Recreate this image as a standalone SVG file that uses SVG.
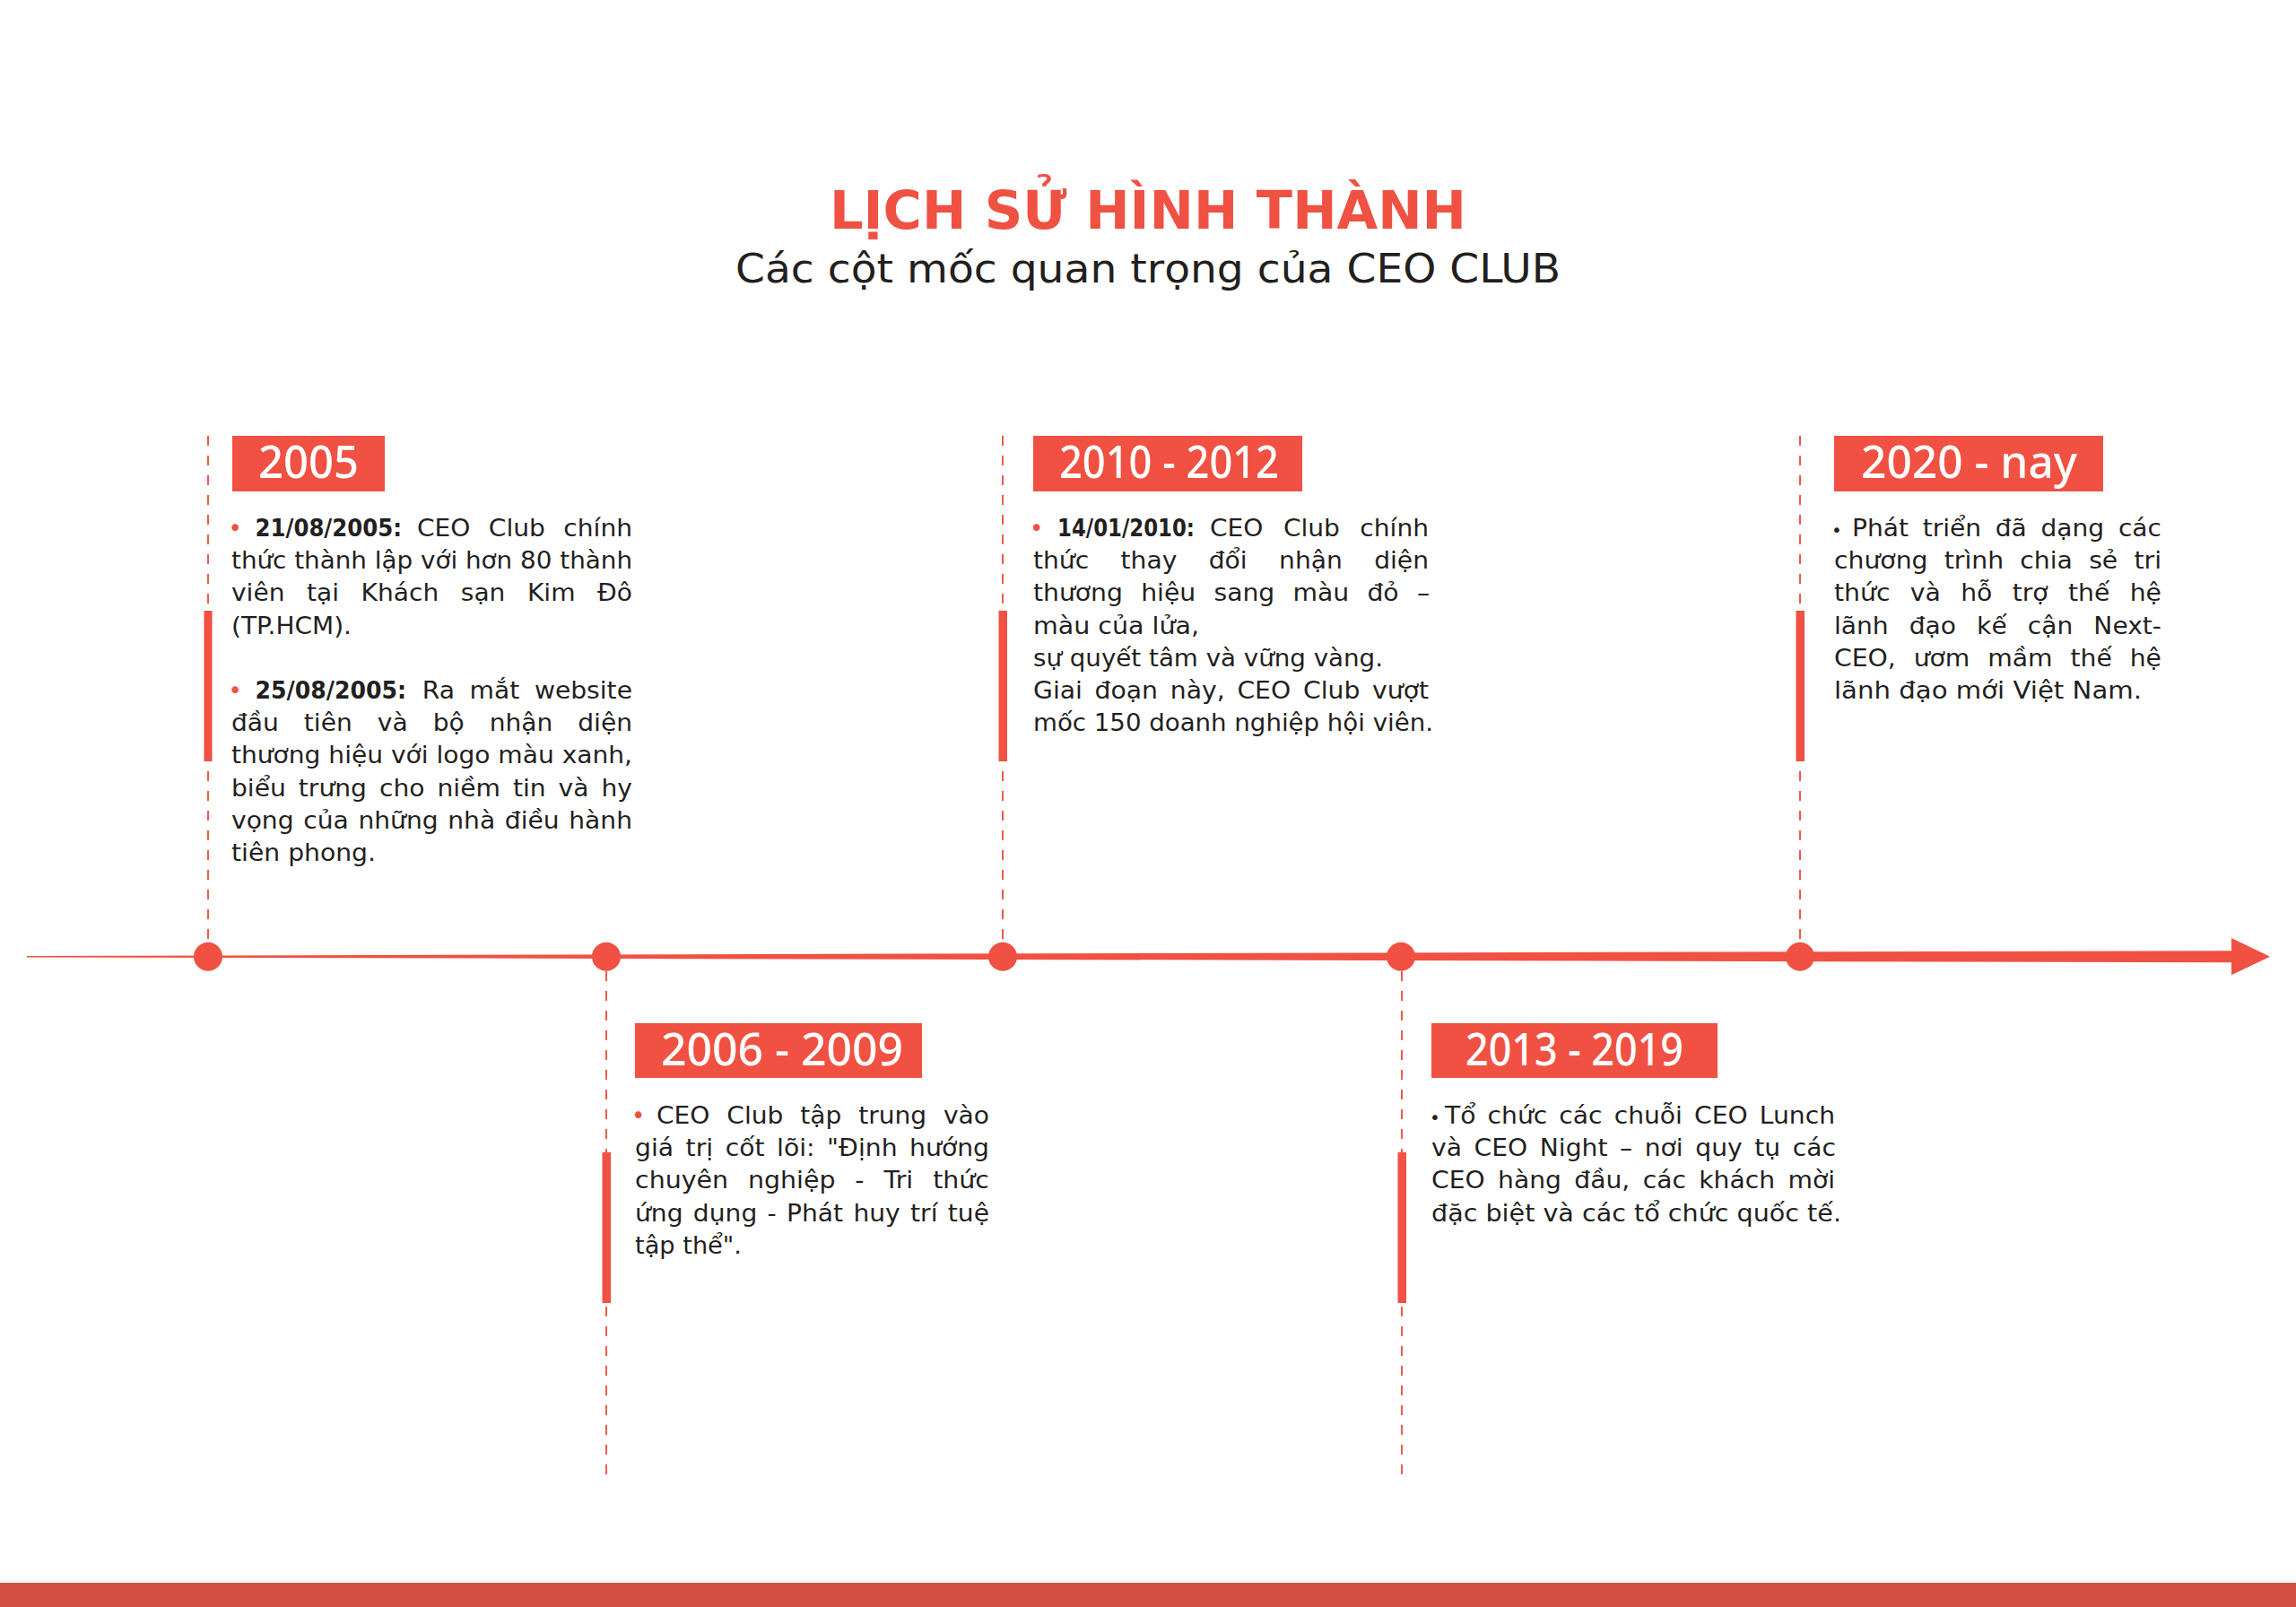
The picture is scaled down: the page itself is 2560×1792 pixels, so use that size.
<svg xmlns="http://www.w3.org/2000/svg" width="2560" height="1792" viewBox="0 0 2560 1792">
<style>
text{font-family:"DejaVu Sans","Noto Sans",sans-serif}
.title{font-size:59px;font-weight:bold;fill:#EF5142}
.sub{font-size:44px;fill:#231F20}
.yr{font-family:"Noto Sans","DejaVu Sans",sans-serif;font-size:51px;font-weight:500;fill:#FFFFFF}
.body{font-size:26px;fill:#231F20}
.date{font-size:26px;font-weight:bold;fill:#231F20}
.bul{font-size:26px;fill:#EF5142}
.bk{font-size:20px;fill:#231F20}
.red{fill:#F05142}
.dash{stroke:#EF5A4C;stroke-width:2;stroke-dasharray:11 11;fill:none}
</style>
<rect width="2560" height="1792" fill="#FFFFFF"/>

<g id="heading">
<text class="title" x="925" y="255" textLength="710" lengthAdjust="spacingAndGlyphs">LỊCH SỬ HÌNH THÀNH</text>
<text class="sub" x="820" y="315" textLength="920" lengthAdjust="spacingAndGlyphs">Các cột mốc quan trọng của CEO CLUB</text>
</g>

<g id="connectors">
<polygon class="red" points="30,1065.9 2490,1060.2 2490,1073.2 30,1067.5"/>
<polygon class="red" points="2488,1046 2531,1066.7 2488,1087.3"/>
<line class="dash" x1="232" y1="486" x2="232" y2="1051"/>
<line class="dash" x1="1118" y1="486" x2="1118" y2="1051"/>
<line class="dash" x1="2007" y1="486" x2="2007" y2="1051"/>
<line class="dash" x1="676" y1="1083" x2="676" y2="1647"/>
<line class="dash" x1="1563" y1="1083" x2="1563" y2="1647"/>
</g>

<g id="m2005">
<circle class="red" cx="232" cy="1066.7" r="16"/>
<rect class="red" x="227.5" y="681" width="9" height="168"/>
<rect class="red" x="259" y="486" width="170" height="62"/>
<text class="yr" x="288" y="533" textLength="112" lengthAdjust="spacingAndGlyphs">2005</text>
<text class="bul" x="254.5" y="598">•</text>
<text class="date" x="284.5" y="598" textLength="163.5" lengthAdjust="spacingAndGlyphs">21/08/2005:</text>
<text class="body" x="465" y="598" textLength="240" lengthAdjust="spacingAndGlyphs" style="word-spacing:10.6px">CEO Club chính</text>
<text class="body" x="258" y="634.2" textLength="447" lengthAdjust="spacingAndGlyphs">thức thành lập với hơn 80 thành</text>
<text class="body" x="258" y="670.4" textLength="447" lengthAdjust="spacingAndGlyphs" style="word-spacing:14.5px">viên tại Khách sạn Kim Đô</text>
<text class="body" x="258" y="706.6" textLength="134" lengthAdjust="spacingAndGlyphs">(TP.HCM).</text>
<text class="bul" x="254.5" y="779">•</text>
<text class="date" x="284.5" y="779" textLength="168.5" lengthAdjust="spacingAndGlyphs">25/08/2005:</text>
<text class="body" x="470.7" y="779" textLength="234.3" lengthAdjust="spacingAndGlyphs" style="word-spacing:7.1px">Ra mắt website</text>
<text class="body" x="258" y="815.2" textLength="447" lengthAdjust="spacingAndGlyphs" style="word-spacing:17.7px">đầu tiên và bộ nhận diện</text>
<text class="body" x="258" y="851.4" textLength="447" lengthAdjust="spacingAndGlyphs">thương hiệu với logo màu xanh,</text>
<text class="body" x="258" y="887.6" textLength="447" lengthAdjust="spacingAndGlyphs" style="word-spacing:4.7px">biểu trưng cho niềm tin và hy</text>
<text class="body" x="258" y="923.8" textLength="447" lengthAdjust="spacingAndGlyphs" style="word-spacing:1.6px">vọng của những nhà điều hành</text>
<text class="body" x="258" y="960" textLength="161" lengthAdjust="spacingAndGlyphs">tiên phong.</text>
</g>

<g id="m2006">
<circle class="red" cx="676" cy="1066.7" r="16"/>
<rect class="red" x="671.5" y="1285" width="9.5" height="168"/>
<rect class="red" x="708" y="1141" width="320" height="61"/>
<text class="yr" x="737" y="1188" textLength="270" lengthAdjust="spacingAndGlyphs">2006 - 2009</text>
<text class="bul" x="704" y="1253">•</text>
<text class="body" x="732" y="1253" textLength="371" lengthAdjust="spacingAndGlyphs" style="word-spacing:9.2px">CEO Club tập trung vào</text>
<text class="body" x="708" y="1289.2" textLength="395" lengthAdjust="spacingAndGlyphs" style="word-spacing:4.2px">giá trị cốt lõi: "Định hướng</text>
<text class="body" x="708" y="1325.4" textLength="395" lengthAdjust="spacingAndGlyphs" style="word-spacing:11.75px">chuyên nghiệp - Tri thức</text>
<text class="body" x="708" y="1361.6" textLength="395" lengthAdjust="spacingAndGlyphs" style="word-spacing:2.2px">ứng dụng - Phát huy trí tuệ</text>
<text class="body" x="708" y="1397.8" textLength="119" lengthAdjust="spacingAndGlyphs">tập thể".</text>
</g>

<g id="m2010">
<circle class="red" cx="1118" cy="1066.7" r="16"/>
<rect class="red" x="1113.5" y="681" width="9.5" height="168"/>
<rect class="red" x="1152" y="486" width="300" height="62"/>
<text class="yr" x="1181" y="533" textLength="245" lengthAdjust="spacingAndGlyphs">2010 - 2012</text>
<text class="bul" x="1148" y="598">•</text>
<text class="date" x="1179" y="598" textLength="153" lengthAdjust="spacingAndGlyphs">14/01/2010:</text>
<text class="body" x="1349" y="598" textLength="244" lengthAdjust="spacingAndGlyphs" style="word-spacing:12.5px">CEO Club chính</text>
<text class="body" x="1152" y="634.2" textLength="441" lengthAdjust="spacingAndGlyphs" style="word-spacing:24.5px">thức thay đổi nhận diện</text>
<text class="body" x="1152" y="670.4" textLength="442" lengthAdjust="spacingAndGlyphs" style="word-spacing:10.4px">thương hiệu sang màu đỏ –</text>
<text class="body" x="1152" y="706.6" textLength="185" lengthAdjust="spacingAndGlyphs">màu của lửa,</text>
<text class="body" x="1152" y="742.8" textLength="390" lengthAdjust="spacingAndGlyphs">sự quyết tâm và vững vàng.</text>
<text class="body" x="1152" y="779" textLength="441" lengthAdjust="spacingAndGlyphs" style="word-spacing:4.4px">Giai đoạn này, CEO Club vượt</text>
<text class="body" x="1152" y="815.2" textLength="446" lengthAdjust="spacingAndGlyphs">mốc 150 doanh nghiệp hội viên.</text>
</g>

<g id="m2013">
<circle class="red" cx="1562" cy="1066.7" r="16"/>
<rect class="red" x="1558.5" y="1285" width="9.5" height="168"/>
<rect class="red" x="1596" y="1141" width="319" height="61"/>
<text class="yr" x="1634" y="1188" textLength="243" lengthAdjust="spacingAndGlyphs">2013 - 2019</text>
<text class="bk" x="1594" y="1253">•</text>
<text class="body" x="1611" y="1253" textLength="435" lengthAdjust="spacingAndGlyphs" style="word-spacing:3.8px">Tổ chức các chuỗi CEO Lunch</text>
<text class="body" x="1596" y="1289.2" textLength="451" lengthAdjust="spacingAndGlyphs" style="word-spacing:4.3px">và CEO Night – nơi quy tụ các</text>
<text class="body" x="1596" y="1325.4" textLength="450" lengthAdjust="spacingAndGlyphs" style="word-spacing:5px">CEO hàng đầu, các khách mời</text>
<text class="body" x="1596" y="1361.6" textLength="457" lengthAdjust="spacingAndGlyphs">đặc biệt và các tổ chức quốc tế.</text>
</g>

<g id="m2020">
<circle class="red" cx="2007" cy="1066.7" r="16"/>
<rect class="red" x="2002.5" y="681" width="9.5" height="168"/>
<rect class="red" x="2045" y="486" width="300" height="62"/>
<text class="yr" x="2075" y="533" textLength="241" lengthAdjust="spacingAndGlyphs">2020 - nay</text>
<text class="bk" x="2042" y="598">•</text>
<text class="body" x="2065" y="598" textLength="345" lengthAdjust="spacingAndGlyphs" style="word-spacing:6.25px">Phát triển đã dạng các</text>
<text class="body" x="2045" y="634.2" textLength="365" lengthAdjust="spacingAndGlyphs" style="word-spacing:8.5px">chương trình chia sẻ tri</text>
<text class="body" x="2045" y="670.4" textLength="365" lengthAdjust="spacingAndGlyphs" style="word-spacing:12.3px">thức và hỗ trợ thế hệ</text>
<text class="body" x="2045" y="706.6" textLength="365" lengthAdjust="spacingAndGlyphs" style="word-spacing:13.1px">lãnh đạo kế cận Next-</text>
<text class="body" x="2045" y="742.8" textLength="365" lengthAdjust="spacingAndGlyphs" style="word-spacing:10px">CEO, ươm mầm thế hệ</text>
<text class="body" x="2045" y="779" textLength="343" lengthAdjust="spacingAndGlyphs">lãnh đạo mới Việt Nam.</text>
</g>

<rect id="footer-band" x="0" y="1765" width="2560" height="27" fill="#D14F42"/>
</svg>
